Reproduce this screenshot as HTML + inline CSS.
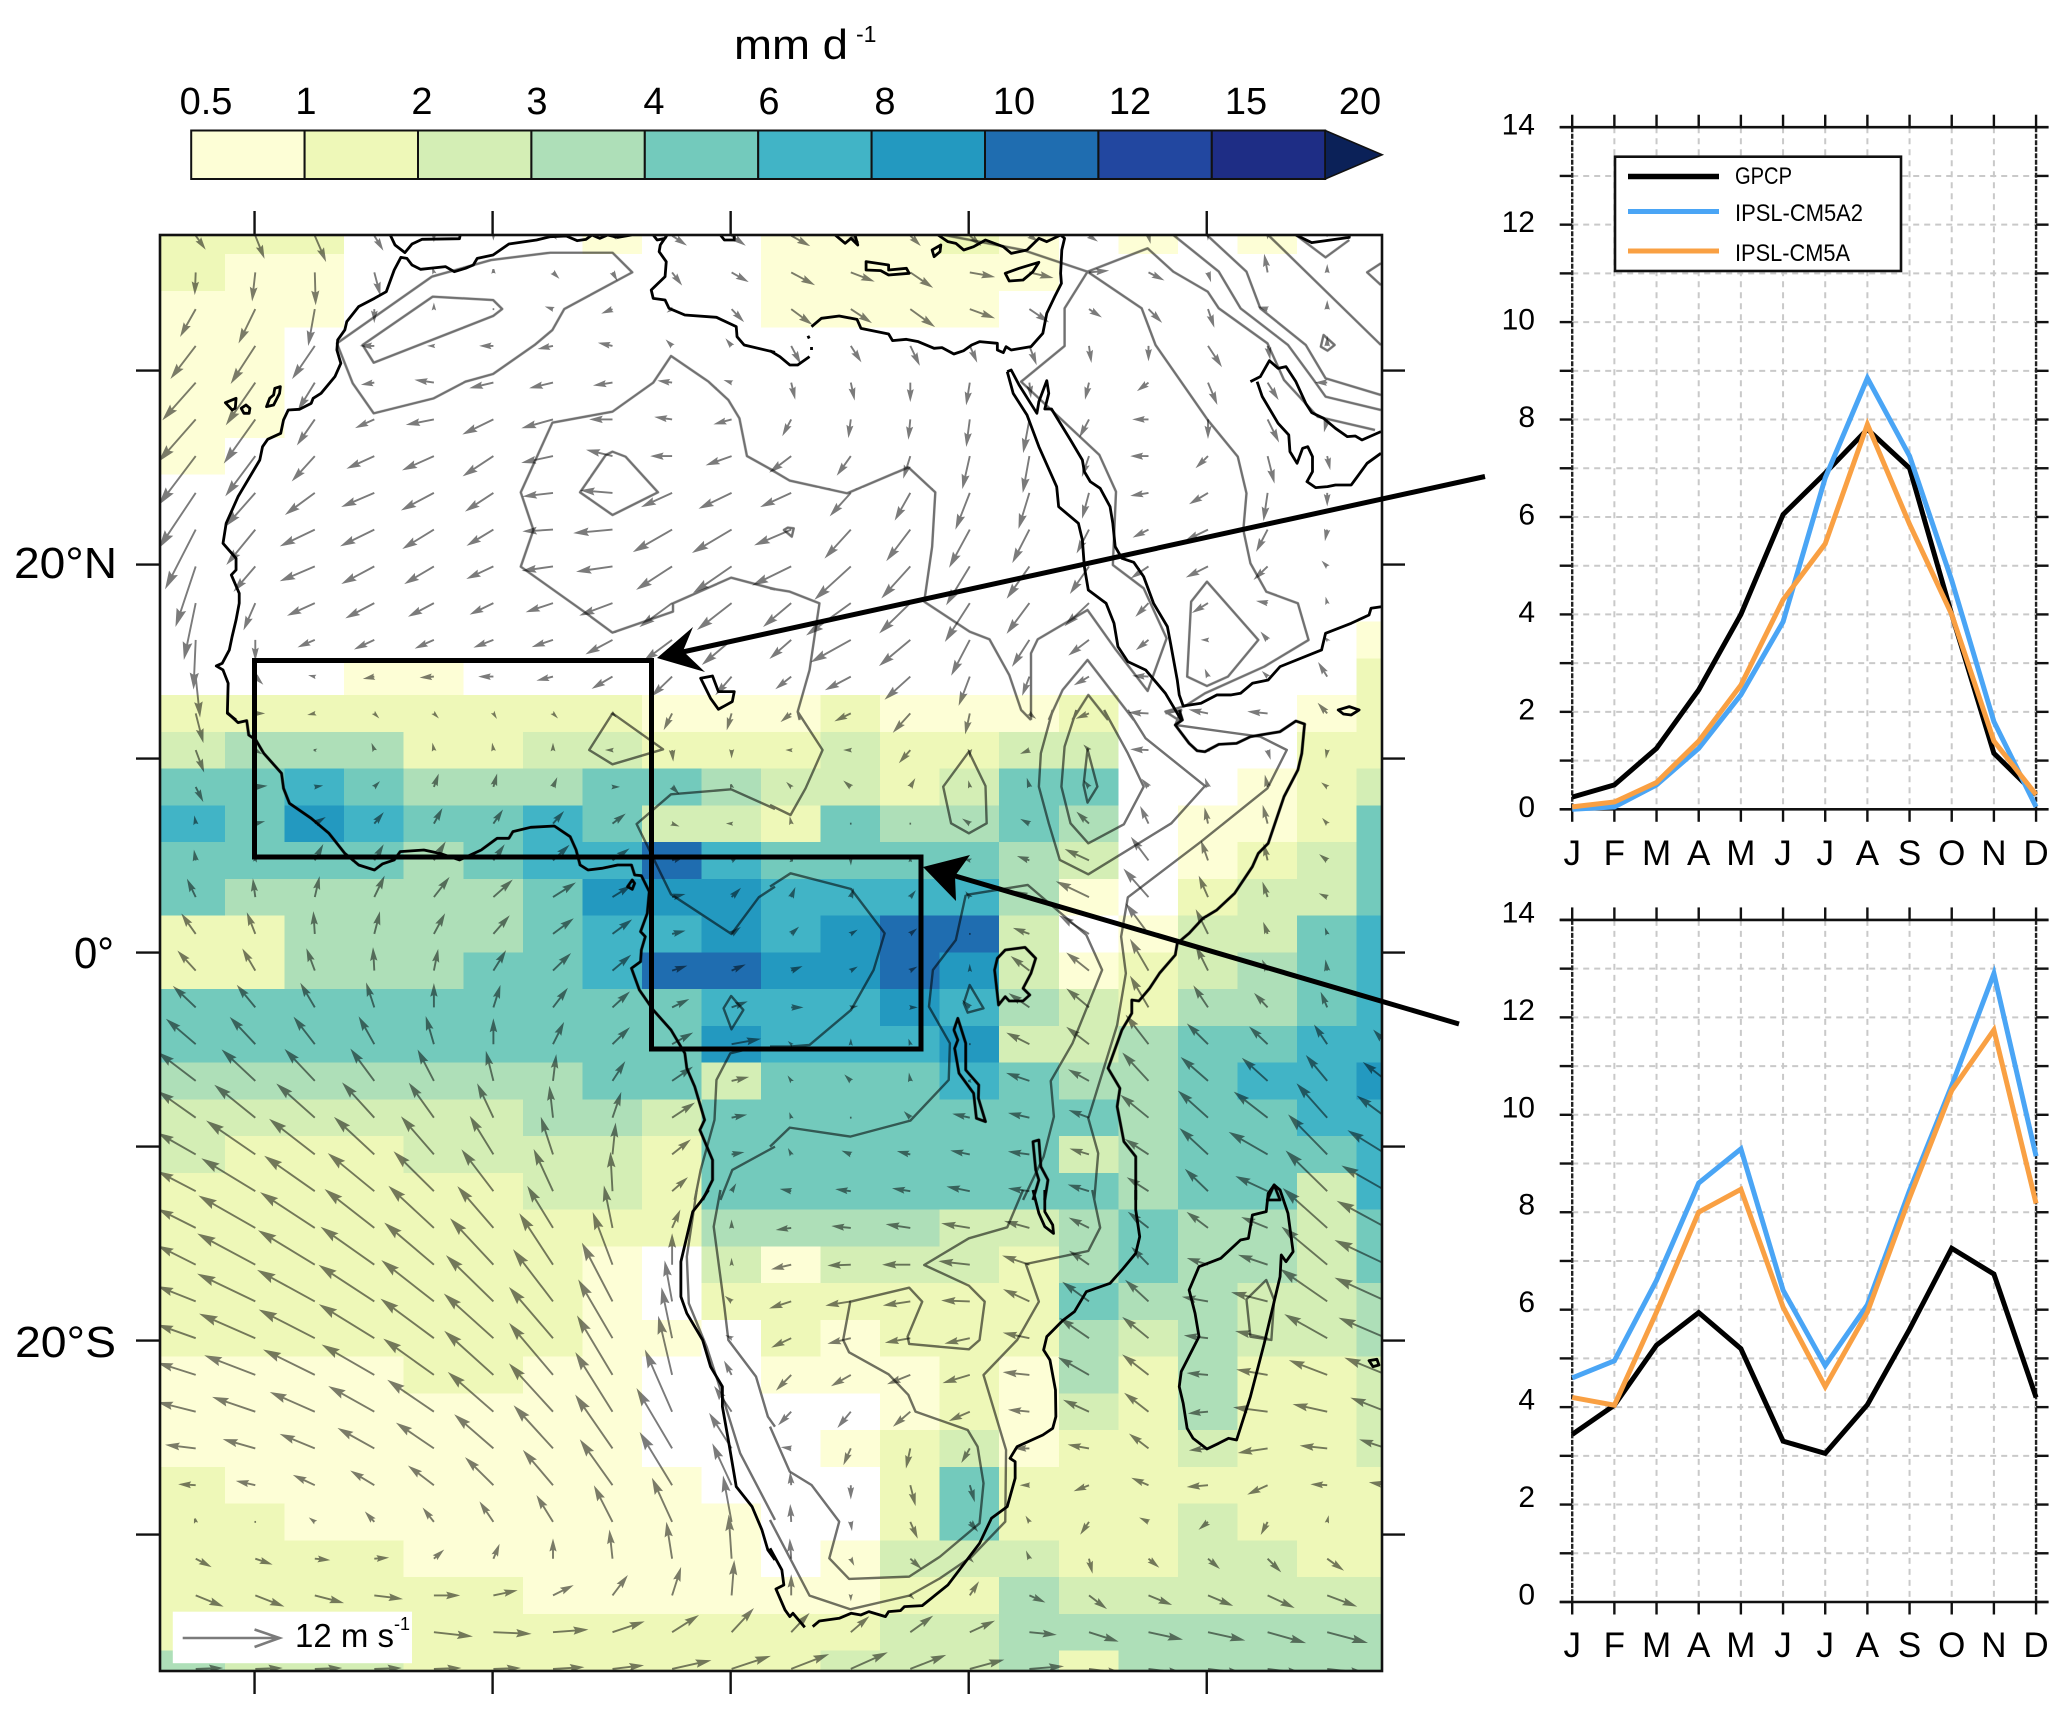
<!DOCTYPE html>
<html lang="en">
<head>
<meta charset="utf-8">
<title>Rainfall and wind over Africa</title>
<style>
html,body{margin:0;padding:0;background:#fff}
svg{display:block}
text{font-family:"Liberation Sans",sans-serif;fill:#000}
.coast *{fill:none;stroke:#000;stroke-width:2.8;stroke-linejoin:round;vector-effect:non-scaling-stroke}
.contour *{fill:none;stroke:#707070;stroke-width:2.4;stroke-linejoin:round;vector-effect:non-scaling-stroke}
</style>
</head>
<body>
<svg id="figure" xmlns="http://www.w3.org/2000/svg" width="2067" height="1712" viewBox="0 0 2067 1712">
<defs><clipPath id="mapClip"><rect x="160" y="235" width="1222" height="1436"/></clipPath></defs>
<rect width="2067" height="1712" fill="#fff"/>

<g id="colorbar"></g>
<text x="734" y="59" font-size="42" textLength="114" lengthAdjust="spacingAndGlyphs">mm d</text>
<text x="856" y="42" font-size="23">-1</text>
<g font-size="38" text-anchor="middle">
<text x="206" y="114">0.5</text>
<text x="306" y="114">1</text>
<text x="422" y="114">2</text>
<text x="537" y="114">3</text>
<text x="654" y="114">4</text>
<text x="769" y="114">6</text>
<text x="885" y="114">8</text>
<text x="1014" y="114">10</text>
<text x="1130" y="114">12</text>
<text x="1246" y="114">15</text>
<text x="1360" y="114">20</text>
</g>

<g clip-path="url(#mapClip)">
<g id="rainCells" shape-rendering="crispEdges"></g>
<g id="windArrows" style="mix-blend-mode:multiply"></g>

<g class="contour" style="mix-blend-mode:multiply">
<g transform="translate(155,230) scale(.3954,.3333)">
<polygon points="460,340 700,140 850,90 1000,68 1157,68 1207,127 1035,237 1005,300 960,345 855,432 785,455 705,505 553,550 500,460"/>
<polygon points="525,345 702,200 855,210 878,237 855,258 553,398"/>
<polyline points="1568,1078 1457,1043 1310,1120 1310,1145 1157,1208 1085,1145 925,1010 957,900 925,787 1005,578 1157,545 1260,458 1305,378 1400,455 1450,510 1478,565 1497,678 1568,725"/>
<polygon points="1157,665 1190,680 1272,787 1157,855 1075,787 1140,675"/>
</g>
<g transform="translate(770,230) scale(.3954,.3333)">
<polyline points="0,717 50,752 195,790 350,712 418,787 410,950 390,1115 505,1205 555,1228 605,1335 635,1440 660,1470"/>
<polyline points="660,1470 660,1270 677,1228 803,1140 875,1260 955,1383 1003,1225 945,1075 867,1005 875,785 833,675 635,455 745,348 745,235 803,125 955,55 1020,125 1107,185 1135,235 1258,340 1300,450 1385,560 1530,600"/>
<polyline points="440,15 640,60 803,125 940,235 975,345 1107,570 1183,680 1205,790 1197,900 1215,1000 1255,1085 1335,1120 1362,1230 1250,1310 1100,1390 1050,1428 1000,1445 1040,1475"/>
<polyline points="1020,15 1135,125 1190,235 1310,345 1375,450 1405,500 1545,540"/>
<polyline points="1105,15 1205,125 1240,235 1355,345 1405,445 1545,495"/>
<polyline points="1260,15 1545,345"/>
<polyline points="1330,15 1405,82 1465,30"/>
<polyline points="1545,100 1510,127 1545,165"/>
<polygon points="1400,315 1428,345 1410,362 1393,350"/>
<polygon points="1105,1055 1065,1115 1055,1340 1105,1368 1158,1340 1235,1230"/>
<polyline points="0,1075 50,1085 125,1120 100,1320 70,1445 75,1470"/>
<polygon points="45,893 60,895 55,920 35,900"/>
<polyline points="705,1470 740,1380 803,1290 920,1470"/>
<polyline points="765,1470 805,1395 855,1470"/>
</g>
<g transform="translate(155,710) scale(.3954,.3333)">
<polyline points="1568,297 1457,238 1305,253 1218,342 1305,553 1458,672 1527,562 1568,530"/>
<polygon points="1157,10 1285,118 1157,163 1098,120"/>
<polygon points="1457,858 1488,900 1458,958 1438,895"/>
<polyline points="1568,1018 1490,1020 1455,1030 1420,1110 1415,1230 1380,1380 1365,1470"/>
<polyline points="1568,1310 1460,1380 1430,1470"/>
</g>
<g transform="translate(770,710) scale(.3954,.3333)">
<polyline points="70,5 133,120 90,235 52,315 0,285"/>
<polyline points="0,530 52,490 205,537 290,670 262,780 205,900 100,1005 50,1010 0,1010"/>
<polygon points="803,118 828,230 803,278 793,225"/>
<polyline points="775,0 745,110 737,230 760,340 805,400 895,343 945,230 905,130 845,0"/>
<polyline points="715,0 685,130 680,230 705,340 733,450 805,493 1015,340 1100,228 950,85 905,0"/>
<polyline points="1000,10 1040,0 1025,45 1240,80 1307,120 1258,235 1090,395 905,562 888,680 900,790 878,945 805,1225 830,1330 820,1470"/>
<polyline points="495,555 652,525 800,675 840,780 765,1000 710,1113 718,1220 692,1340 640,1470"/>
<polyline points="495,555 470,690 412,780 402,890 455,1000 452,1110 355,1232 203,1280 50,1253 0,1310"/>
<polygon points="503,125 545,228 548,340 503,370 458,340 438,230"/>
<polygon points="505,825 540,895 500,908 490,880"/>
</g>
<g transform="translate(155,1190) scale(.3954,.3333)">
<polyline points="1370,0 1362,65 1345,200 1350,340 1395,470 1425,580 1480,790 1568,990"/>
<polyline points="1430,0 1413,110 1440,350 1450,450 1520,560 1550,680 1568,710"/>
</g>
<g transform="translate(770,1190) scale(.3954,.3333)">
<polyline points="0,710 50,845 105,885 175,995 150,1105 200,1167 352,1160 430,1100 530,1000 540,880 525,770 500,720 368,665 350,615 300,553 200,487 185,450 203,335 352,293 385,335 348,440 352,462 503,478 530,450 543,335 503,287 390,225 503,145 600,112 640,0"/>
<polyline points="0,990 100,1217 203,1258 352,1217 430,1165 510,1100 595,995 597,780 540,555 625,450 680,335 647,222 805,183 835,113 815,0"/>
<polygon points="1205,328 1255,270 1275,330 1268,450 1215,440"/>
</g>
</g>

<g class="coast">
<g transform="translate(155,230) scale(.3954,.3333)">
<polyline points="595,15 607,45 632,68 650,42 675,28 770,26 772,15"/>
<polyline points="205,1470 183,1450 185,1360 172,1320 155,1308 170,1300 188,1260 195,1220 205,1170 213,1120 213,1090 193,1035 205,1020 205,985 172,940 180,880 210,800 235,750 265,690 272,650 285,628 318,610 325,570 337,540 365,538 395,520 400,505 420,490 455,440 470,400 460,360 462,330 480,300 485,275 515,230 555,205 585,185 605,120 622,82 637,85 650,105 672,118 735,110 757,125 785,115 805,105 815,85 855,75 895,42 965,30 1000,20 1040,18 1068,32 1090,28 1105,15 1125,25 1145,15 1170,22 1205,15"/>
<polyline points="1260,15 1270,30 1290,25 1295,15 1278,45 1275,65 1293,95 1290,140 1255,180 1260,205 1290,210 1300,235 1340,255 1420,262 1470,290 1472,320 1490,345 1568,367"/>
<polyline points="1430,15 1440,30 1465,30 1465,15"/>
<polygon points="178,518 205,505 203,535 195,540"/>
<polygon points="218,535 230,525 240,535 238,550 225,550"/>
<polygon points="282,530 290,505 300,495 303,475 317,470 315,490 300,525"/>
<polygon points="1380,1345 1410,1338 1425,1385 1465,1385 1460,1415 1425,1438 1405,1405"/>
</g>
<g transform="translate(770,230) scale(.3954,.3333)">
<polyline points="0,362 25,380 50,405 70,405 100,380"/>
<polyline points="105,290 130,265 175,258 220,268 230,295 300,312 310,332 345,328 375,335 415,355 435,353 465,372 490,362 510,345 530,335 575,340 575,360 590,368 597,350 610,360 660,350 690,310 700,250 720,200 737,160 735,130 738,60 745,25 735,15 700,35 680,25 650,60 610,70 590,50 545,30 515,50 490,60 470,40 450,35 425,15"/>
<polyline points="105,360 105,340 95,315" stroke-dasharray="3 9"/>
<polygon points="243,95 300,105 300,120 345,115 352,130 300,135 280,122 243,120"/>
<polygon points="595,130 630,115 680,97 665,125 640,150 605,153"/>
<polygon points="410,60 432,45 430,65 415,80"/>
<polyline points="165,15 190,40 205,25 222,45 215,15"/>
<polyline points="1330,15 1370,38 1465,22 1465,15"/>
<polyline points="600,425 610,420 630,465 675,550 680,515 700,452 705,490 695,537 712,537 760,630 790,690 795,725 810,755 835,775 860,830 867,880 873,950 890,985 920,997 945,1040 970,1120 1005,1190 1013,1240 1030,1350 1035,1395 1045,1428 1090,1420 1130,1395 1165,1395 1190,1390 1220,1360 1260,1350 1290,1310 1395,1260 1405,1210 1470,1180 1515,1155 1520,1135 1548,1130"/>
<polyline points="600,425 615,490 650,555 680,650 725,770 730,830 780,880 790,930 795,1010 805,1080 850,1120 870,1180 880,1250 905,1295 950,1320 1000,1390 1040,1470"/>
<polyline points="1215,455 1240,440 1263,392 1285,415 1305,410 1330,455 1355,520 1370,548 1400,565 1430,595 1460,620 1480,618 1497,630 1545,605"/>
<polyline points="1232,455 1245,500 1285,580 1312,615 1315,665 1333,700 1347,655 1360,650 1372,680 1372,725 1358,755 1380,773 1410,770 1430,765 1470,765 1510,700 1545,670"/>
<polygon points="1437,1440 1465,1430 1490,1440 1470,1455 1450,1452"/>
</g>
<g transform="translate(155,710) scale(.3954,.3333)">
<polyline points="183,8 210,38 232,32 237,75 255,90 275,130 320,190 325,235 340,280 395,325 440,370 480,430 515,465 555,480 575,462 605,450 620,425 680,420 720,430 770,450 825,420 865,385 895,385 905,365 950,352 1010,348 1050,380 1065,420 1075,465 1095,480 1130,475 1170,465 1205,465 1213,495 1230,497 1250,545 1245,610 1228,665 1240,680 1230,720 1228,755 1205,775 1225,840 1260,900 1305,960 1340,1030 1345,1075 1365,1130 1390,1230 1378,1260 1410,1350 1410,1410 1385,1470"/>
<polygon points="1195,530 1207,510 1213,520 1207,538"/>
</g>
<g transform="translate(770,710) scale(.3954,.3333)">
<polyline points="1035,0 1043,30 1025,45 1060,100 1080,122 1100,125 1135,103 1180,100 1215,80 1240,75 1290,65 1330,33 1352,42 1345,130 1335,180 1300,260 1260,400 1235,430 1220,470 1175,550 1130,600 1095,625 1060,670 1030,700 1025,735 985,790 960,835 933,873 915,870 915,910 890,960 855,1075 885,1135 878,1190 895,1295 925,1340 925,1470"/>
<polygon points="575,745 595,720 645,712 672,745 660,790 640,835 657,855 640,873 605,873 595,860 578,885 568,780"/>
<polygon points="475,925 495,1000 495,1080 528,1125 527,1165 545,1235 522,1225 515,1150 478,1090 467,1015 475,990 465,960"/>
<polyline points="665,1470 680,1410 672,1380 665,1295 680,1290 685,1370 703,1410 695,1470"/>
<polygon points="1275,1425 1258,1470 1290,1470"/>
</g>
<g transform="translate(155,1190) scale(.3954,.3333)">
<polyline points="1400,0 1380,35 1360,65 1330,215 1330,320 1345,370 1385,450 1405,530 1435,590 1435,650 1450,750 1470,890 1510,950 1535,1020 1550,1080 1568,1110"/>
</g>
<g transform="translate(770,1190) scale(.3954,.3333)">
<polyline points="925,0 925,60 935,140 925,190 890,240 860,280 800,305 770,365 740,392 700,440 692,480 708,510 722,600 723,680 715,715 690,735 625,770 607,805 620,815 620,865 600,950 560,985 530,1060 450,1185 385,1247 340,1250 330,1262 300,1265 292,1280 250,1265 230,1275 205,1270 175,1285 125,1293 108,1310"/>
<polyline points="0,1075 30,1140 35,1185 15,1197 38,1260 50,1280 58,1270 88,1312"/>
<polyline points="695,0 695,65 715,105 717,130 695,110 680,70 665,0"/>
<polygon points="1085,230 1140,205 1190,150 1210,145 1220,75 1255,65 1260,10 1275,-15 1290,0 1310,70 1323,185 1305,215 1293,195 1290,260 1250,460 1215,620 1180,750 1160,745 1135,760 1105,777 1070,745 1055,715 1045,640 1035,590 1040,545 1085,440 1075,370 1060,300"/>
<polygon points="1515,512 1535,508 1540,525 1525,530"/>
</g>
</g>
</g>

<rect x="172.8" y="1611.7" width="239.2" height="51.5" fill="#fff"/>
<g id="windKey" fill="none" stroke="#7b7b7b" stroke-width="2.6"></g>
<text x="295" y="1647" font-size="33">12 m s</text>
<text x="394" y="1630" font-size="18">-1</text>

<rect x="160" y="235" width="1222" height="1436" fill="none" stroke="#111" stroke-width="2.6"/>
<g id="mapTicks" stroke="#111" stroke-width="2.4"></g>
<text x="14" y="578" font-size="44" textLength="103" lengthAdjust="spacingAndGlyphs">20°N</text>
<text x="74" y="968" font-size="44" textLength="40" lengthAdjust="spacingAndGlyphs">0°</text>
<text x="15" y="1357" font-size="44" textLength="101" lengthAdjust="spacingAndGlyphs">20°S</text>

<rect x="254.5" y="660.5" width="397" height="196.5" fill="none" stroke="#000" stroke-width="5"/>
<rect x="651.5" y="857" width="269.5" height="192" fill="none" stroke="#000" stroke-width="5"/>
<line x1="1485" y1="476.5" x2="678" y2="653" stroke="#000" stroke-width="5"/>
<polygon points="657,658 693,627 683,651 705,672" fill="#000"/>
<line x1="1459" y1="1024" x2="945" y2="873" stroke="#000" stroke-width="5"/>
<polygon points="923,867 970,855 955,876 956,901" fill="#000"/>

<g id="panelTop"></g>
<g id="panelBottom"></g>

<g>
<rect x="1615" y="156.7" width="286" height="114.3" fill="#fff" stroke="#111" stroke-width="2.6"/>
<line x1="1628" y1="176.5" x2="1719" y2="176.5" stroke="#000" stroke-width="5.5"/>
<line x1="1628" y1="211.5" x2="1719" y2="211.5" stroke="#4aa5f5" stroke-width="5"/>
<line x1="1628" y1="251" x2="1719" y2="251" stroke="#f9a043" stroke-width="5"/>
<text x="1735" y="184" font-size="24" textLength="57" lengthAdjust="spacingAndGlyphs">GPCP</text>
<text x="1735" y="221" font-size="24" textLength="128" lengthAdjust="spacingAndGlyphs">IPSL-CM5A2</text>
<text x="1735" y="261" font-size="24" textLength="115" lengthAdjust="spacingAndGlyphs">IPSL-CM5A</text>
</g>
</svg>

<script>
// ---- colour scale ----
const levelColors = ["#ffffff","#fdfed6","#eef8b8","#d4eeb5","#aedfb8","#73cabc","#41b4c6","#2399c0","#1f6db0","#2247a0","#1e2d85"];
const overflowColor = "#0b2158";

// ---- rainfall class per grid cell (one string per latitude row, one digit per longitude column) ----
const rainLevels = [
"222000010011121010100",
"211000000011111000000",
"111000000011110000000",
"110000000000000000000",
"110000000000000000000",
"110000000000000000000",
"100000000000000000000",
"000000000000000000000",
"000000000000000000000",
"000000000000000000000",
"000000000000000000000",
"000000000000000000001",
"000110000000000000002",
"222222221112111200012",
"344422332223223300022",
"556544455433235500123",
"657655653325445401125",
"555545668655554301235",
"544444577766664102335",
"224444566767883013356",
"224445568877873123456",
"555555555666764324456",
"555555555766673345566",
"444444455355565445667",
"333333443555555545566",
"322233332555555345556",
"222222332555555545536",
"222222222444433454435",
"222222210313332454435",
"222222210222222544334",
"222222211021222434334",
"111122110011121424223",
"111111110000121324223",
"111111110001231223223",
"211111111000252222222",
"221111111100252223222",
"222211111101333223322",
"222222111111224333333",
"222222222222334444444",
"433322222223334244444"
];

// ---- wind components in m/s, one row per latitude, one value per longitude column ----
const windU = [
[1,1,1.25,.9,0,0,.2,.2,1.5,1.4,2,.75,1,1.1,.75,.75,.15,0,0,0,0],
[-.1,-.35,.1,.65,-.1,0,.5,.4,1,1.75,2.6,2.6,2.5,2.75,2.6,2.1,1.6,.25,-.35,0,0],
[-1.75,-1.9,-.75,0,0,0,-.6,-1,-.3,1.25,2.3,2.3,2.75,2.75,2.1,1.25,1.4,.65,-.8,0,0],
[-2.9,-2.85,-2.6,-1.4,-.4,-1.35,-1.5,-1.4,-.5,-.5,1,1.1,1,.75,.75,.25,0,1.5,.25,0,0],
[-3.9,-3.45,-1.9,-1.25,-2,-2.6,-2.55,-2,-1.4,-.6,.4,.4,0,-.4,.15,-.4,-1.1,1,1.15,-1.1,0],
[-4.4,-3.7,-2,-2,-3.1,-3.5,-3.55,-2.5,-1.8,-1.85,-.9,-.25,-.2,-.4,-.7,-1,-1.6,0,1.25,-.3,0],
[-4.4,-3.5,-2.6,-3.1,-3.6,-3.5,-3.55,-2.9,-2.3,-2.85,-2.4,-1.5,-.75,-.85,-.75,-.75,-1.85,-1.25,.75,.3,0],
[-4.4,-3.45,-3.4,-3.75,-3.75,-3.2,-3.4,-3.65,-3.5,-3.75,-3.5,-2.35,-1.75,-1.65,-1.25,-.75,-1.85,-2,-.45,0,0],
[-3.65,-3.35,-4,-3.9,-3.6,-3,-3.4,-4.5,-4.55,-4.6,-4.25,-3,-2.75,-2.4,-1.95,-1.35,-1.6,-2.5,-1.25,-.2,0],
[-2.4,-2.45,-4,-3.75,-3.35,-3,-3.5,-4.15,-4.15,-4.5,-4.5,-4.25,-3.35,-2.75,-2.6,-2.15,-1.85,-2.4,-1.45,-.4,0],
[-1.4,-1.3,-3.1,-3.25,-2.85,-2.6,-3,-3.75,-3.75,-4,-3.2,-5.25,-3.6,-2.9,-2.6,-2.75,-1.35,-1.65,-1,-.1,0],
[-.25,0,-1.75,-2.15,-2,-2.1,-2.25,-3,-3.25,-3.4,-2.4,-4.65,-3.6,-2.15,-1.95,-2.25,-1.25,-.5,-.6,-.1,0],
[.5,.7,-.4,-1,-1.35,-1.45,-1.65,-2.25,-2.3,-1.75,-1.65,-2.85,-2.9,-1.25,-.75,-1.5,-1.6,-.25,-.4,-.9,0],
[.85,.8,-.5,.3,.3,.2,.3,.2,-.85,-.5,-1,-1.65,-1.9,-.5,.5,-1.25,-2.1,-2,-2.1,-.9,0],
[.9,.5,-.1,-.2,-.1,-.1,0,-.5,.1,0,-.3,-.5,-1.15,0,-.75,-.4,-1.85,-.1,.25,-.1,0],
[.75,1.1,.6,.4,.45,.35,.35,.5,.6,-.1,-.3,-.6,.4,-.1,-.2,-.4,-.6,-.25,-.25,-.4,0],
[-.1,.8,1,.9,.85,.95,1.1,1.3,.5,-.3,-.1,0,0,-.6,-.75,-1.25,-.85,-.35,-.5,-.35,0],
[-.15,.1,.85,.95,1.25,1.15,1.75,1.75,1.25,.6,.2,0,0,-.4,-1.15,-2.65,-1.95,-.75,-.4,-.65,0],
[-.9,-.25,.5,1.1,1.7,2.1,2.5,2,1.25,.85,.35,.25,.4,-.3,-1.35,-3.75,-2.85,-1,-.5,-.65,0],
[-1.55,-.9,-.15,.6,1.2,1.75,2.25,2.1,1.25,.8,.65,.5,.5,0,-1.65,-3.4,-2.6,-1.35,-.4,-.15,0],
[-2,-1.4,-.9,-.15,.45,1.35,1.95,2,1.5,1.35,1,.5,.5,0,-2,-2.5,-2.1,-1.35,-.5,-.15,0],
[-2.55,-2.05,-1.6,-.9,0,.75,1.6,1.85,1.75,1.6,1.1,.5,.5,-.65,-2.25,-2.5,-2.1,-1.6,-1.4,-.65,0],
[-3.4,-2.9,-2.4,-1.75,-.9,0,1.2,1.85,2.25,3.25,-.1,0,-.1,0,-2.5,-2.5,-2.6,-2.35,-2,-1.4,-1.4],
[-4.4,-3.9,-3.5,-2.75,-1.85,-.85,.35,1.35,2.25,1.75,-.2,-.5,-.1,-.2,-2.5,-2.25,-3,-3.1,-2.9,-2.4,-2.65],
[-4.4,-4.8,-4.5,-3.75,-2.9,-1.85,-.4,.95,2.5,1.5,-.1,0,-.5,-1.75,-2.25,-2.15,-3.2,-3.45,-3.9,-3.55,-3.4],
[-4.4,-5.8,-5.4,-4.75,-3.85,-2.75,-1.4,.35,2,1.15,-.2,-.75,-1.25,-2,-2.25,-2,-2.6,-3.25,-4.5,-4.6,-4.55],
[-4.4,-6.4,-6,-5.5,-4.75,-3.75,-2.25,-.25,1.65,.35,-1,-1.5,-1.85,-2.5,-2.25,-2.25,-2.35,-2.6,-3.65,-4.9,-5.3],
[-4.4,-6.75,-6.5,-5.9,-5.4,-4.25,-3,-1,.85,0,-1.5,-2,-2.65,-3.15,-2.75,-2.15,-2.25,-2.35,-2.9,-5.25,-5.9],
[-4.4,-6.9,-6.75,-6.4,-5.9,-5.15,-4,-2.35,0,0,-2.1,-2.5,-3.1,-3.5,-3,-2.15,-1.85,-2.25,-3.3,-5.4,-6.15],
[-4.4,-6.9,-6.85,-6.65,-6.25,-5.65,-4.75,-3.65,-.85,-.5,-2.35,-2.75,-3,-3.15,-2.9,-3,-2.6,-2.85,-4.15,-5.55,-6.15],
[-4.4,-6.65,-6.65,-6.6,-6.35,-5.9,-5.25,-4.1,-1.25,-.4,-2.1,-2.5,-2.75,-2.75,-2.9,-3.35,-2.95,-2.6,-3.65,-5,-5.65],
[-4.4,-6,-6.1,-6.25,-6,-5.85,-5.25,-4.25,-1.65,-.75,-1.6,-2.1,-2.5,-3,-2.9,-3.5,-2.95,-2.25,-3.5,-4.4,-4.9],
[-4.4,-5,-5.25,-5.4,-5.5,-5.4,-5.25,-4.45,-3.25,-1.95,-1.35,-1.4,-1.85,-2.25,-2.25,-2.85,-2.7,-2.1,-3.9,-3.9,-4.15],
[-3.4,-3.65,-4,-4.25,-4.4,-4.6,-4.65,-4.45,-4.25,-2.6,-.85,-.75,-.45,-.85,-1.5,-2.25,-2.1,-1.95,-3.3,-3,-3.05],
[-1.75,-2,-2.35,-2.65,-2.9,-3.25,-3.5,-3.85,-3.85,-2.25,-.1,0,.55,.5,-.75,-1.5,-1.75,-2.25,-2.15,-1.65,-1.8],
[-.1,0,-.4,-.9,-1.15,-1.5,-1.85,-2.15,-2.35,-1,-.1,.1,.75,.75,-.25,-.85,-.75,-.85,-.65,.1,0],
[1.6,1.75,1.5,1.4,.95,.6,0,-.35,-.65,-.35,-.15,.25,1.1,.2,-.25,.35,1,1.15,1.4,1.75,0],
[3.1,3.25,3.25,3.15,2.85,2.6,2.2,1.65,1,.3,0,0,.2,.9,1.6,1.9,2.55,2.75,3,3.35,0],
[3.5,3.5,3.5,3.5,4.45,4.35,4,3.6,3,2.5,2,2,2.5,2.75,3,3.3,3.9,4.25,4.4,4.7,0],
[3,3,3,3,3,3,3.5,3.5,4.5,4.5,4.35,4.25,4.1,3.9,3.9,3.8,4,4,4,4.5,0]
];
const windV = [
[-1.4,-2.5,-2.9,-1.5,-.4,-.2,-.2,-.2,-1,-1,-1.1,-.6,-1,-1,-.5,-.5,-.6,-.2,-.1,0,0],
[-2.4,-3.2,-3.7,-2.5,.3,.4,-.5,-.7,-1.3,-1,-1.4,-1,-1.7,-.5,-.6,.2,-.8,-.8,1.9,.6,0],
[-3.1,-3.9,-4.2,-1.3,.4,0,.2,-.4,-.2,-1.3,-1.7,-1.5,-2,-1,-1.4,-.8,-1.4,-1.9,.2,.7,0],
[-3.8,-4.4,-3.8,0,0,0,-.3,.3,.5,.6,-1.9,-1.7,-2.1,-1.7,-2,-1.7,-1.5,-2.3,-1.3,.8,0],
[-4.4,-5,-3.1,-.2,.3,-.6,-.6,-.3,.2,.2,-1.7,-1.8,-2,-2.4,-1.5,-1.7,-.8,-2.4,-1.8,0,0],
[-5,-5.2,-2.9,-.9,-.6,-1.7,-1,0,.25,-.5,-1.7,-1.9,-2.1,-3,-3.8,-1.9,0,-2,-2.5,-1.2,0],
[-5.8,-4.7,-2.85,-1.4,-1.6,-2.3,-.75,.7,0,-1,-1.8,-2.1,-2.4,-3.7,-4.2,-2.2,0,-1.2,-3,-1.3,0],
[-6.6,-3.9,-2.5,-1.6,-2,-2.1,-.4,.3,-1.6,-1.8,-1.6,-2.6,-3.1,-4.2,-4.1,-2.8,-.3,-1.2,-3.1,-1.25,0],
[-7.1,-4.1,-1.9,-1.9,-2.2,-1.8,-.2,-.4,-2.6,-2.7,-1.8,-3.3,-3.6,-4.4,-3.8,-2.6,-.8,-1.2,-2.4,-1,0],
[-7.2,-2.85,-1.7,-2,-2,-1.4,-.5,-.6,-2.7,-3.1,-2.2,-3.9,-3.7,-4.5,-3.7,-3.1,-1.25,-1.2,-1.4,.4,0],
[-6.7,-3,-1.4,-1.7,-1.5,-1.25,-1,-1.4,-2.75,-3.1,-2.7,-3.8,-3.5,-4.5,-3.5,-2.6,-1.4,-1,.2,.4,0],
[-5.8,-2.2,-.75,-1,-.9,-.8,-.75,-1.6,-2.4,-2.85,-2.1,-2.6,-3,-4.1,-3,-1.7,-1,0,.7,.1,0],
[-4.7,-.7,.1,-.2,-.1,0,-.4,-1.3,-2.2,-2,-1.3,-1.5,-2.6,-3.25,-2,-.85,.1,.6,.4,1.45,0],
[-3.3,0,-.1,-.3,-.3,-.3,-.3,-.2,-1.7,-1.7,-.8,-.8,-2.1,-2.2,-.4,-.5,.1,.4,.2,1,0],
[-2.4,-.3,0,.5,.5,.5,.5,0,-1,-.6,0,0,-1.3,-.5,-.3,.4,.1,0,-.8,-.6,0],
[-1.5,.1,.1,.4,1.25,1.25,.8,0,-.6,.3,.3,.5,.7,.4,.7,.5,.7,.7,1.1,.3,0],
[.6,.2,.6,1.1,1.55,1.4,1.25,1,-.2,0,.5,0,0,.4,.4,1.2,1.8,1.6,1.9,.4,0],
[.9,.3,1.65,1.65,2,1.65,1.65,1.25,.4,.4,0,-.2,.2,.1,.4,1.25,2.6,2.1,1.7,.5,0],
[1.9,1.9,2.2,2.3,2.2,1.9,1.6,1.25,.3,.85,.85,.7,.5,.4,.6,1.8,3.25,2.3,1.5,.3,0],
[2.2,2.3,2.4,2.4,2.2,2,1.7,1.55,.3,.6,.6,.3,.4,0,.6,2.1,3.5,2.7,1.1,.4,0],
[2.2,2.4,2.4,2.5,2.3,2.2,1.9,1.7,.5,.6,.4,.3,.3,.4,1.55,2,3.6,2.7,1,.95,0],
[2.4,2.5,2.7,2.7,2.6,2.4,2.1,1.7,.85,.6,0,.1,0,.6,1.55,2.1,3.6,2.4,1.5,1.55,0],
[2.9,3.1,3.1,3.1,3.1,2.8,2.4,1.8,1.25,.6,.1,.3,.3,0,1.25,1.9,3.35,2.3,1.9,2.1,1.5],
[3.35,3.65,3.7,3.7,3.55,3.35,2.9,2.1,1.55,.4,.3,.5,.6,0,.85,1.25,3.25,2.7,2.6,2.9,2.1],
[3.1,3.85,4,4.1,4.05,3.9,3.55,2.8,1.65,.3,.3,0,.5,.4,.5,.8,2.6,3.1,3,4,2.5],
[2.5,4,4.2,4.4,4.45,4.45,4.3,3.55,1.6,.2,.4,.3,.3,.4,.3,.6,1.7,3,2.6,4.7,2.8],
[2.3,3.9,4.2,4.5,4.7,4.9,4.9,4.5,1.45,.6,.2,.2,.3,.5,.3,.7,1.5,2.5,1.7,4.8,3],
[2.2,3.85,4.25,4.6,5,4.9,4.9,4.9,1.9,.6,-.2,.2,.4,.5,.75,1.1,1.75,1.75,1.2,4.7,3.2],
[2.2,3.7,4.1,4.5,5,5.5,6.1,6.2,3.5,.4,-.5,-.1,0,.4,1,1.5,1.9,.7,1.1,4.5,2.9],
[1.75,3.3,3.75,4.35,4.9,5.5,6.2,7,4.7,.4,-.75,-.45,-.45,.1,1.35,2.2,2.4,.5,1.05,3.85,2.8],
[1.55,2.9,3.4,4.05,4.7,5.3,6.1,7,5.95,.2,-1,-.6,-.5,-.6,.6,2.3,2.4,.3,.8,2.8,2.4],
[1.4,2.3,3,3.6,4.3,5.25,6.2,7.1,7,1.4,-1.65,-1.2,-1,-.9,.3,2,2.3,.2,.6,1.7,2],
[1.1,1.7,2.3,3,3.75,4.7,5.75,7.1,7.4,2.85,-1.4,-1.7,-1.6,-1,.2,1.3,2.1,-.2,.5,.85,1.6],
[.4,1.05,1.65,2.35,3,4,5.1,6.4,7.2,4.1,.1,-1.7,-2.1,-1.45,0,.4,1.6,-.2,-.5,.3,1],
[.1,.45,1.1,1.6,2.2,3.2,4.1,5.4,6.3,4.85,1.25,-1.35,-2.2,-1.7,0,-.6,.75,-.2,-1,.1,.3],
[.4,0,.3,1,1.45,2.2,3,4.2,5.15,5.4,1.8,-.7,-1.7,-.9,.4,-1.25,.35,-.7,-1.25,.4,0],
[-.85,-.6,-.15,.1,.85,1.45,2.1,3.2,4.2,5.1,2.1,-.5,-1,-.2,.6,-1.45,-.85,-1,-1.4,-1.25,0],
[-1.25,-1.25,-.85,-.4,0,.55,1.1,2.2,3.15,4,2.2,-.3,-.2,1.4,-.7,-1.45,-1.05,-1.15,-1.4,-1.25,0],
[-1.3,-1.2,-.8,-.3,-.5,-.2,.3,1.2,1.9,2.7,2.1,1.7,1.8,1.25,-.3,-1.05,-.85,-.95,-1.25,-1.25,0],
[.1,.1,.1,.1,.1,.1,.2,.4,1,1.5,1.7,1.9,1.6,1.05,.3,-.5,-.5,-.5,-.5,-.5,0]
];
const windKeySpeed = 12;

// ---- map axis ticks ----
const lonTicks = [-15,0,15,30,45];
const latTicks = [30,20,10,0,-10,-20,-30];

// ---- seasonal cycle charts ----
const months = ["J","F","M","A","M","J","J","A","S","O","N","D"];
const yTickLabels = [0,2,4,6,8,10,12,14];
const yGridValues = [0,1,2,3,4,5,6,7,8,9,10,11,12,13,14];
const westGpcp = [.25,.5,1.25,2.45,4,6.05,6.9,7.8,7,4,1.15,.3];
const westCm5a2 = [0,.05,.5,1.25,2.35,3.85,6.8,8.85,7.25,4.7,1.8,.05];
const westCm5a = [.05,.15,.55,1.4,2.55,4.3,5.45,7.9,5.85,4,1.4,.3];
const centralGpcp = [3.44,4.04,5.27,5.94,5.2,3.3,3.05,4.05,5.6,7.26,6.73,4.2];
const centralCm5a2 = [4.6,4.95,6.6,8.6,9.3,6.4,4.85,6.1,8.45,10.6,12.9,9.15];
const centralCm5a = [4.2,4.04,5.95,8,8.47,6.05,4.42,5.95,8.3,10.5,11.74,8.18];

const NS = "http://www.w3.org/2000/svg";
function make(tag, attrs, parent){
  const el = document.createElementNS(NS, tag);
  for (const k in attrs) el.setAttribute(k, attrs[k]);
  parent.appendChild(el);
  return el;
}

// colour bar
const barLeft = 191.2, barStep = 113.4, barTop = 130.5, barHeight = 48.5;
const colorbar = document.getElementById("colorbar");
for (let i = 1; i < levelColors.length; i++) {
  const box = make("rect", {x: barLeft + (i-1)*barStep, y: barTop, width: barStep, height: barHeight, fill: levelColors[i], stroke: "#111", "stroke-width": 2}, colorbar);
  
  
}
const barEnd = barLeft + (levelColors.length-1)*barStep;
const tri = make("polygon", {points: barEnd+","+barTop+" "+(barEnd+57)+","+(barTop+barHeight/2)+" "+barEnd+","+(barTop+barHeight), fill: overflowColor, stroke: "#111", "stroke-width": 1.5}, colorbar);



// map axis functions
const colWidth = 59.55, rowHeight = 36.75;
function cellLeft(c){ return 165.5 + c*colWidth; }
function cellTop(r){ return 217.25 + r*rowHeight; }
function windX(c){ return 195.7 + c*colWidth; }
function windY(r){ return 235.65 + r*rowHeight; }
const windScale = 7.95;
function lonX(lon){ return 492.6 + lon*15.87; }
function latY(lat){ return 952.6 - lat*19.4; }

// rainfall cells
const rainG = document.getElementById("rainCells");
rainLevels.forEach(function(row, r){
  for (let c = 0; c < row.length; c++) {
    const level = +row[c];
    if (!level) continue;
    const left = c === 0 ? 155 : cellLeft(c);
    const cell = make("rect", {x: left, y: cellTop(r), width: cellLeft(c)+colWidth-left, height: rowHeight, fill: levelColors[level]}, rainG);
    
    
  }
});

// wind arrows
function arrowPath(x, y, dx, dy){
  const len = Math.hypot(dx, dy);
  if (len < .6) return "M"+(x-.8)+" "+y+"h1.6";
  const ux = dx/len, uy = dy/len, h = Math.min(len*.8, Math.min(13, len*.13+5.5)), w = h*.27, tx = x+dx, ty = y+dy;
  const bx = tx-ux*h, by = ty-uy*h, nx = tx-ux*h*.85, ny = ty-uy*h*.85;
  return "M"+x.toFixed(1)+" "+y.toFixed(1)+"L"+nx.toFixed(1)+" "+ny.toFixed(1)+
    "M"+tx.toFixed(1)+" "+ty.toFixed(1)+"L"+(bx-uy*w).toFixed(1)+" "+(by+ux*w).toFixed(1)+
    "L"+nx.toFixed(1)+" "+ny.toFixed(1)+"L"+(bx+uy*w).toFixed(1)+" "+(by-ux*w).toFixed(1)+"Z";
}
const windG = document.getElementById("windArrows");
windU.forEach(function(row, r){
  row.forEach(function(u, c){
    const v = windV[r][c];
    const arrow = make("path", {d: arrowPath(windX(c), windY(r), u*windScale, -v*windScale), fill: "#7b7b7b", stroke: "#7b7b7b", "stroke-width": 1.9}, windG);
    
    
  });
});

// wind key arrow
const keyX = 182.7, keyY = 1638, keyLen = windKeySpeed*8.07;
const keyG = document.getElementById("windKey");
const keyLine = make("path", {d: "M"+keyX+" "+keyY+"H"+(keyX+keyLen)+"M"+(keyX+keyLen-25)+" "+(keyY-8.5)+"L"+(keyX+keyLen)+" "+keyY+"L"+(keyX+keyLen-25)+" "+(keyY+9)}, keyG);



// map ticks
const tickG = document.getElementById("mapTicks");
lonTicks.forEach(function(lon){
  const top = make("line", {x1: lonX(lon), x2: lonX(lon), y1: 211, y2: 235}, tickG);
  
  
  const bottom = make("line", {x1: lonX(lon), x2: lonX(lon), y1: 1671, y2: 1694}, tickG);
  
  
});
latTicks.forEach(function(lat){
  const left = make("line", {x1: 136, x2: 160, y1: latY(lat), y2: latY(lat)}, tickG);
  
  
  const right = make("line", {x1: 1382, x2: 1405, y1: latY(lat), y2: latY(lat)}, tickG);
  
  
});

// seasonal panels
const panelLeft = 1572.2, panelStep = 42.17, unitHeight = 48.72;
function monthX(i){ return panelLeft + i*panelStep; }
function drawPanel(id, zeroY, labelDrop, monthBase, gpcp, cm5a2, cm5a){
  const g = document.getElementById(id);
  const y = function(v){ return zeroY - v*unitHeight; };
  const right = monthX(months.length-1);
  yGridValues.forEach(function(v){
    if (v > 0 && v < 14) {
      const grid = make("line", {x1: panelLeft, x2: right, y1: y(v), y2: y(v), stroke: "#c9c9c9", "stroke-width": 2, "stroke-dasharray": "6 5"}, g);
      
      
    }
    const tl = make("line", {x1: panelLeft-12.5, x2: panelLeft, y1: y(v), y2: y(v), stroke: "#111", "stroke-width": 2.4}, g);
    
    
    const tr = make("line", {x1: right, x2: right+12.5, y1: y(v), y2: y(v), stroke: "#111", "stroke-width": 2.4}, g);
    
    
  });
  months.forEach(function(m, i){
    const x = monthX(i);
    const edge = i === 0 || i === months.length-1;
    const grid = make("line", {x1: x, x2: x, y1: y(14), y2: y(0), stroke: edge ? "#222" : "#c9c9c9", "stroke-width": edge ? 2.4 : 2, "stroke-dasharray": edge ? "5 1.5" : "6 5"}, g);
    
    
    const tt = make("line", {x1: x, x2: x, y1: y(14)-12.5, y2: y(14), stroke: "#111", "stroke-width": 2.4}, g);
    
    
    const tb = make("line", {x1: x, x2: x, y1: y(0), y2: y(0)+12.5, stroke: "#111", "stroke-width": 2.4}, g);
    
    
    const lab = make("text", {x: x, y: monthBase, "font-size": 35, "text-anchor": "middle"}, g);
    lab.textContent = m;
    
    
  });
  [14, 0].forEach(function(v){
    const axis = make("line", {x1: panelLeft-12.5, x2: right+12.5, y1: y(v), y2: y(v), stroke: "#111", "stroke-width": 2.6}, g);
    
    
  });
  yTickLabels.forEach(function(v){
    const lab = make("text", {x: 1535, y: y(v)+labelDrop, "font-size": 30, "text-anchor": "end"}, g);
    lab.textContent = v;
    
    
  });
  const series = [
    {values: gpcp, color: "#000", name: "series-gpcp"},
    {values: cm5a2, color: "#4aa5f5", name: "series-ipsl-cm5a2"},
    {values: cm5a, color: "#f9a043", name: "series-ipsl-cm5a"}
  ];
  series.forEach(function(s){
    const pts = s.values.map(function(v, i){ return monthX(i).toFixed(1)+","+y(v).toFixed(1); }).join(" ");
    const line = make("polyline", {points: pts, fill: "none", stroke: s.color, "stroke-width": 5, "stroke-linejoin": "miter"}, g);
    
    
  });
}
drawPanel("panelTop", 809.3, 7.5, 865, westGpcp, westCm5a2, westCm5a);
drawPanel("panelBottom", 1602, 2.5, 1657, centralGpcp, centralCm5a2, centralCm5a);
</script>
</body>
</html>
